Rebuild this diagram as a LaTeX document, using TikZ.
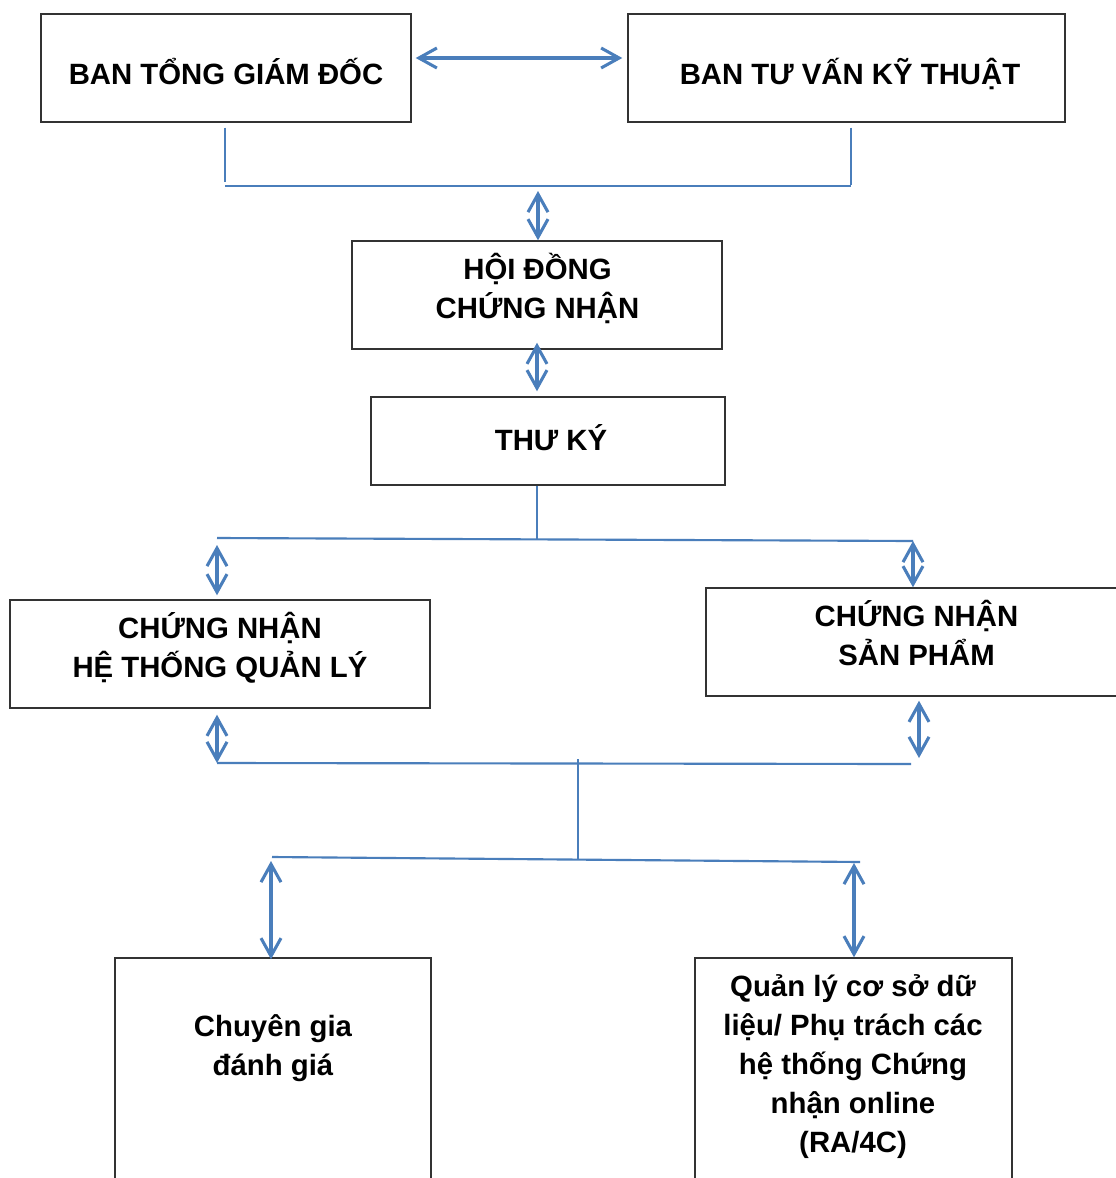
\documentclass[tikz,border=0pt]{standalone}
\usepackage{fontspec}
\setmainfont{Liberation Sans}
\usetikzlibrary{arrows.meta,fit,calc}
\definecolor{conn}{HTML}{4A7EBB}
\definecolor{edge}{HTML}{333333}
\begin{document}
\begin{tikzpicture}[x=0.75pt,y=-0.75pt,
 box/.style={draw=edge,line width=1.1pt,inner sep=0pt,rectangle},
 txt/.style={anchor=base,inner sep=0pt,font=\fontsize{22}{29}\selectfont\bfseries},
 bus/.style={draw=conn,line width=1.6pt},
 dbl/.style={draw=conn,line width=2.3pt,{Straight Barb[length=13.5pt,width=15pt]}-{Straight Barb[length=13.5pt,width=15pt]}}]
\clip (0,0) rectangle (1116,1178);
\fill[white] (0,0) rectangle (1116,1178);
% boxes
\node[box,fit={(41,14)(411,122)}] (b1) {};
\node[box,fit={(628,14)(1065,122)}] (b2) {};
\node[box,fit={(352,241)(722,349)}] (b3) {};
\node[box,fit={(371,397)(725,485)}] (b4) {};
\node[box,fit={(10,600)(430,708)}] (b5) {};
\node[box,fit={(706,588)(1130,696)}] (b6) {};
\node[box,fit={(115,958)(431,1195)}] (b7) {};
\node[box,fit={(695,958)(1012,1195)}] (b8) {};
% texts
\node[txt] (t1) at (226,84) {BAN TỔNG GIÁM ĐỐC};
\node[txt] (t2) at (850,84) {BAN TƯ VẤN KỸ THUẬT};
\node[txt] (t3a) at (537.5,279) {HỘI ĐỒNG};
\node[txt] (t3b) at (537.5,318) {CHỨNG NHẬN};
\node[txt] (t4) at (551,450) {THƯ KÝ};
\node[txt] (t5a) at (220,638) {CHỨNG NHẬN};
\node[txt] (t5b) at (220,677) {HỆ THỐNG QUẢN LÝ};
\node[txt] (t6a) at (916.5,626) {CHỨNG NHẬN};
\node[txt] (t6b) at (916.5,665) {SẢN PHẨM};
\node[txt] (t7a) at (273,1036) {Chuyên gia};
\node[txt] (t7b) at (273,1075) {đánh giá};
\node[txt] (t8a) at (853,996) {Quản lý cơ sở dữ};
\node[txt] (t8b) at (853,1035) {liệu/ Phụ trách các};
\node[txt] (t8c) at (853,1074) {hệ thống Chứng};
\node[txt] (t8d) at (853,1113) {nhận online};
\node[txt] (t8e) at (853,1152) {(RA/4C)};
% connectors
\coordinate (a0) at (0,58);
\draw[dbl] ([xshift=3pt]b1.east |- a0) -- ([xshift=-3.75pt]b2.west |- a0);
\coordinate (j1l) at (225,186);
\coordinate (j1r) at (851,186);
\coordinate (j1m) at (538,186);
\draw[bus] ([yshift=-3.75pt]b1.south -| j1l) -- ([yshift=3pt]j1l);
\draw[bus] ([yshift=-3.75pt]b2.south -| j1r) -- ([yshift=1pt]j1r);
\draw[bus] (j1l) -- (j1r);
\draw[dbl] ([yshift=-3.75pt]j1m) -- (b3.north -| j1m);
\draw[dbl] ([yshift=5.25pt]b3.south) -- ([yshift=3.75pt]b4.north -| b3.south);
\coordinate (j2m) at (537,539.5);
\coordinate (j2l) at (217,538);
\coordinate (j2r) at (913,541);
\draw[bus] (b4.south -| j2m) -- (j2m);
\draw[bus] (j2l) -- (j2r);
\draw[dbl] ([yshift=-5.25pt]j2l) -- ([yshift=3pt]b5.north -| j2l);
\draw[dbl] (j2r) -- (b6.north -| j2r);
\coordinate (j3l) at (217,763);
\coordinate (j3r) at (911,764);
\coordinate (j3m) at (578,763);
\coordinate (a6) at (919,758);
\draw[dbl] ([yshift=-4.5pt]b5.south -| j3l) -- (j3l);
\draw[dbl] ([yshift=-3pt]b6.south -| a6) -- (a6);
\draw[bus] (j3l) -- (j3r);
\coordinate (j4m) at (578,859.5);
\coordinate (j4l) at (272,857);
\coordinate (j4r) at (860,862);
\draw[bus] ([yshift=3pt]j3m) -- (j4m);
\draw[bus] (j4l) -- (j4r);
\coordinate (a7) at (271,861);
\coordinate (a8) at (854,863);
\draw[dbl] (a7) -- ([yshift=-1.5pt]b7.north -| a7);
\draw[dbl] (a8) -- (b8.north -| a8);
\end{tikzpicture}
\end{document}
